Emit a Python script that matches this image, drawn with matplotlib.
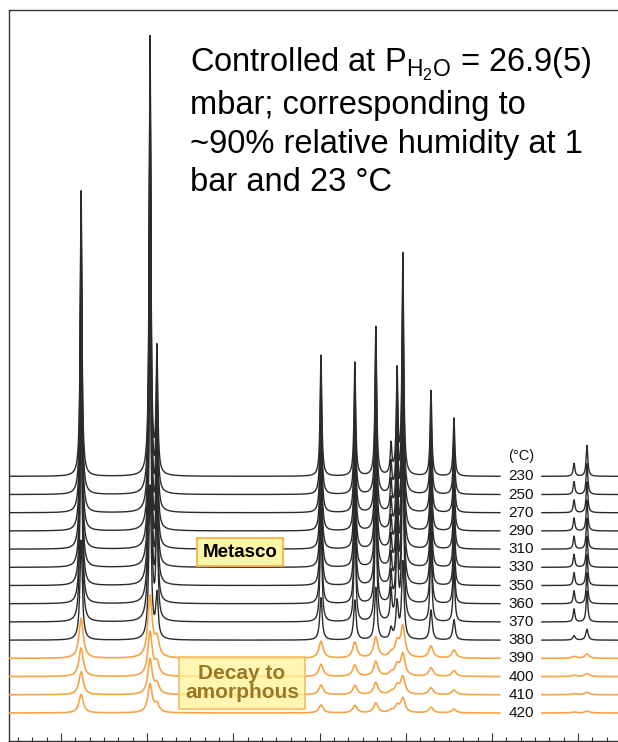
import numpy as np
import matplotlib.pyplot as plt

plt.rcParams['font.family'] = ['Liberation Sans', 'DejaVu Sans']
plt.rcParams['mathtext.fontset'] = 'custom'
plt.rcParams['mathtext.rm'] = 'Liberation Sans'
plt.rcParams['mathtext.it'] = 'Liberation Sans:italic'

# temperatures (top to bottom), first 10 crystalline, last 4 decaying
temps = [230, 250, 270, 290, 310, 330, 350, 360, 370, 380, 390, 400, 410, 420]
n_cryst = 10

# reflections: position (2theta, deg) and height (in units of trace spacing)
peak_pos = [6.70, 9.10, 9.34, 15.05, 16.23, 16.96, 17.49, 17.70, 17.90, 18.88, 19.68, 23.86, 24.31]
peak_height = [15.7, 24.1, 6.8, 6.65, 6.26, 8.2, 1.65, 5.66, 12.1, 4.7, 3.2, 0.71, 1.7]

# per-temperature intensity scale and peak half width
scale = [1.0, 1.0, 1.0, 1.0, 1.0, 1.0, 1.0, 1.0, 1.0, 0.35, 0.14, 0.10, 0.08, 0.065]
hwhm = [0.035, 0.035, 0.035, 0.035, 0.035, 0.035, 0.035, 0.035, 0.035, 0.05, 0.09, 0.09, 0.09, 0.09]

x_lo, x_hi = 4.19, 25.39
gap_lo, gap_hi = 21.28, 22.74
label_x = 22.01


def pattern(x, s, w):
  y = np.zeros_like(x)
  for p, h in zip(peak_pos, peak_height):
    y += s * h * w**2 / ((x - p)**2 + w**2)
  return y


fig = plt.figure(figsize=(6.18, 7.42), dpi=100)
ax = fig.add_axes([9 / 618, 1 / 742, 609 / 618, 731 / 742])

x1 = np.arange(x_lo, gap_lo, 0.003)
x2 = np.arange(gap_hi, x_hi, 0.003)

n = len(temps)
for i, t in enumerate(temps):
  base = 1.54 + (n - 1 - i)
  if i < n_cryst:
    c, lw = '#2b2b2b', 1.0
  else:
    c, lw = '#f5a446', 1.2
  ax.plot(x1, base + pattern(x1, scale[i], hwhm[i]), color=c, lw=lw, zorder=2 + i)
  ax.plot(x2, base + pattern(x2, scale[i], hwhm[i]), color=c, lw=lw, zorder=2 + i)
  ax.text(label_x, base, str(t), ha='center', va='center', fontsize=11, color='#111111')

ax.text(label_x, 1.54 + n - 1 + 1.1, '(°C)', ha='center', va='center', fontsize=10.5, color='#111111')

ax.text(12.23, 10.38, 'Metasco', ha='center', va='center', fontsize=13.5, fontweight='bold',
        color='black', zorder=30,
        bbox=dict(boxstyle='square,pad=0.3', fc='#fff5a6', ec='#f3b24a', lw=1.3))
ax.text(12.3, 3.19, 'Decay to\namorphous', ha='center', va='center', fontsize=15, fontweight='bold',
        color='#9a7824', zorder=30, linespacing=1.05,
        bbox=dict(boxstyle='square,pad=0.3', fc='#fff39a', ec='#f3b24a', lw=1.3, alpha=0.75))

fig.text(190 / 618, 1 - 46 / 742,
         'Controlled at P$_{\\mathrm{H_2O}}$ = 26.9(5)\nmbar; corresponding to\n~90% relative humidity at 1\nbar and 23 °C',
         ha='left', va='top', fontsize=23.5, linespacing=1.3, color='black')

ax.set_xlim(x_lo, x_hi)
ax.set_ylim(0, 731 / 18.2)
ax.set_xticks(np.arange(6, x_hi, 3))
ax.set_xticks(np.arange(4.5, x_hi, 0.5), minor=True)
ax.set_yticks([])
ax.tick_params(axis='x', which='both', direction='in', labelbottom=False, color='#333333')
ax.tick_params(axis='x', which='major', length=6, width=0.8)
ax.tick_params(axis='x', which='minor', length=3, width=0.8)
ax.spines['right'].set_visible(False)
for s in ['left', 'top', 'bottom']:
  ax.spines[s].set_color('#333333')
  ax.spines[s].set_linewidth(1.0)

plt.savefig('out.png', dpi=100)
